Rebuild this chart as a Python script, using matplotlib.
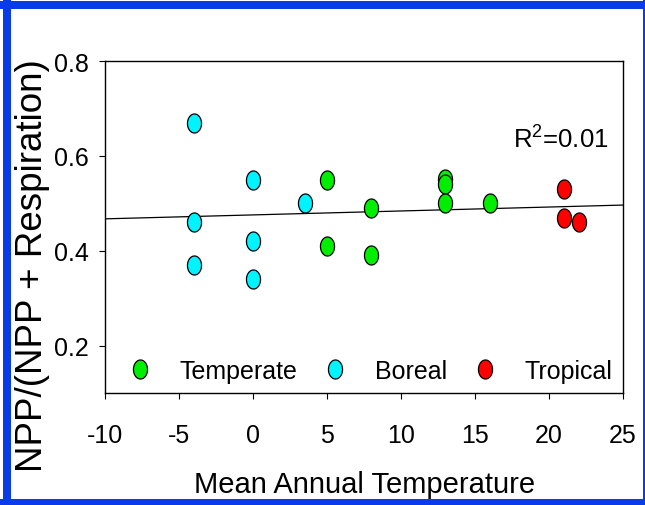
import numpy as np
import matplotlib
matplotlib.use("Agg")
import matplotlib.pyplot as plt
from matplotlib.path import Path
from matplotlib.patches import Rectangle
from matplotlib import font_manager

# ---- data ----
boreal_x = [-4, -4, -4, 0, 0, 0, 3.5]
boreal_y = [0.67, 0.46, 0.37, 0.55, 0.42, 0.34, 0.50]
temperate_x = [5, 5, 8, 8, 13, 13, 13, 16]
temperate_y = [0.55, 0.41, 0.49, 0.39, 0.552, 0.54, 0.50, 0.50]
tropical_x = [21, 21, 22]
tropical_y = [0.53, 0.47, 0.46]
trend_intercept = 0.4755
trend_slope = 0.00083
x_ticks = [-10, -5, 0, 5, 10, 15, 20, 25]
y_ticks = [0.2, 0.4, 0.6, 0.8]
r2_text = "0.01"

regular = "Liberation Sans"
plt.rcParams['font.family'] = [regular, 'DejaVu Sans']
plt.rcParams['mathtext.fontset'] = 'custom'
plt.rcParams['mathtext.rm'] = regular

W, H = 645, 506
fig = plt.figure(figsize=(W / 100, H / 100), dpi=100)
fig.patch.set_facecolor('white')

# blue frame
blue = '#0a3be8'
for (x0, y0, w, h) in [(3, 0, 8, H), (643, 0, 2, H), (0, 496, W, 8), (0, 0, W, 6)]:
    fig.patches.append(Rectangle((x0 / W, y0 / H), w / W, h / H, transform=fig.transFigure,
                                 facecolor=blue, edgecolor='none', zorder=0))

ax = fig.add_axes([105 / W, (H - 394) / H, 518 / W, 332 / H])
ax.set_xlim(-10, 25)
ax.set_ylim(0.1, 0.8)

# ellipse marker (narrower than tall)
t = np.linspace(0, 2 * np.pi, 60)
ell = Path(np.column_stack([0.74 * np.cos(t), np.sin(t)]), closed=True)

xs = np.array([x_ticks[0], x_ticks[-1]], dtype=float)
ax.plot(xs, trend_intercept + trend_slope * xs, color='black', lw=0.9, zorder=2)

ms = 13.7
kw = dict(marker=ell, markersize=ms, markeredgecolor='black', markeredgewidth=0.9,
          linestyle='none', zorder=3)
ax.plot(temperate_x, temperate_y, markerfacecolor='#00ee00', label='Temperate', **kw)
ax.plot(boreal_x, boreal_y, markerfacecolor='#00f4ff', label='Boreal', **kw)
ax.plot(tropical_x, tropical_y, markerfacecolor='#ff0000', label='Tropical', **kw)

ax.set_xticks(x_ticks)
ax.set_xticklabels([str(v) for v in x_ticks])
ax.set_yticks(y_ticks)
ax.set_yticklabels([f"{v:.1f}" for v in y_ticks])
ax.tick_params(axis='both', direction='out', length=4.5, width=0.8, labelsize=18)
ax.tick_params(axis='x', pad=17)
ax.tick_params(axis='y', pad=7)
for s in ax.spines.values():
    s.set_linewidth(1.0)

ax.set_xlabel('Mean Annual Temperature', fontsize=21)
ax.xaxis.set_label_coords(0.502, -0.298)
ax.xaxis.label.set_va('baseline')
ax.set_ylabel('NPP/(NPP + Respiration)', fontsize=26.5)
ax.yaxis.set_label_coords(-0.1216, 0.386)
ax.yaxis.label.set_va('baseline')

ax.text((513 - 105) / 518, (394 - 148) / 332, r'R$^2$=' + r2_text, transform=ax.transAxes,
        fontsize=18.5, ha='left', va='baseline')

leg = ax.legend(loc='center left', bbox_to_anchor=(0.043, (394 - 372) / 332), ncol=3,
                frameon=False, handlelength=1.0, handletextpad=1.1,
                columnspacing=1.0, borderaxespad=0.0, borderpad=0.0,
                prop={'size': 18})

fig.savefig('out.png', dpi=100, facecolor='white')
